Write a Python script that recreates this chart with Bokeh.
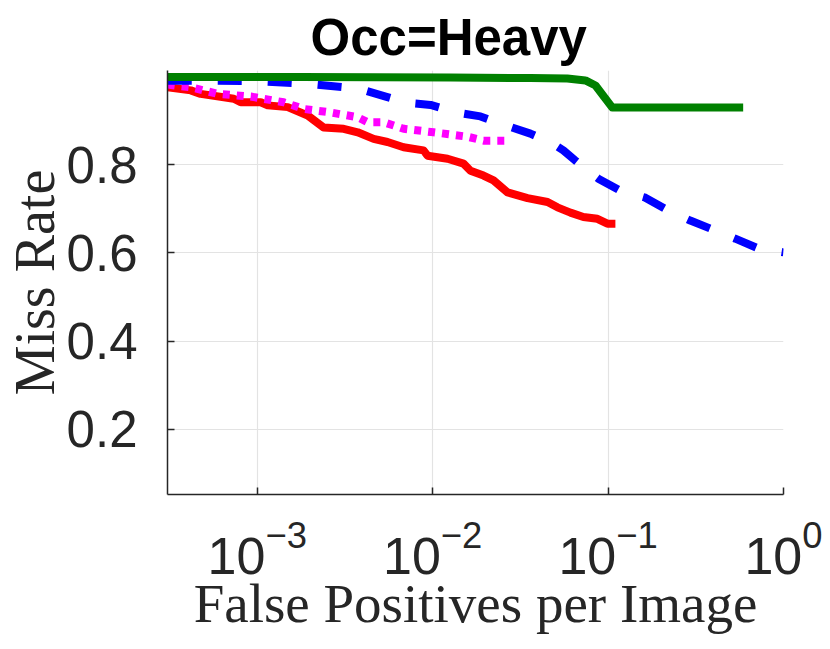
from bokeh.plotting import figure
from bokeh.models import FixedTicker, LogTickFormatter, Range1d
from bokeh.embed import file_html
from bokeh.resources import INLINE

# ---- data ----
red_x = [3.09e-4, 4.18e-4, 4.76e-4, 7.35e-4, 8.05e-4, 1.047e-3, 1.148e-3, 1.493e-3,
         1.94e-3, 2.39e-3, 3.11e-3, 3.74e-3, 4.61e-3, 5.53e-3, 6.83e-3, 8.87e-3,
         9.35e-3, 0.01216, 0.0150, 0.01643, 0.0195, 0.02223, 0.02673, 0.03475,
         0.04518, 0.05146, 0.0610, 0.07231, 0.0869, 0.0991, 0.1101]
red_y = [0.975, 0.968, 0.960, 0.949, 0.941, 0.941, 0.934, 0.930,
         0.911, 0.884, 0.881, 0.873, 0.858, 0.851, 0.839, 0.832,
         0.820, 0.813, 0.802, 0.786, 0.775, 0.764, 0.737, 0.724,
         0.715, 0.703, 0.691, 0.681, 0.677, 0.666, 0.666]

mag_x = [3.09e-4, 4.18e-4, 5.96e-4, 9.18e-4, 1.416e-3, 1.84e-3, 2.62e-3, 3.74e-3,
         4.26e-3, 5.25e-3, 6.83e-3, 0.01012, 0.01581, 0.0195, 0.0270]
mag_y = [0.981, 0.975, 0.960, 0.954, 0.941, 0.926, 0.918, 0.907,
         0.896, 0.896, 0.881, 0.873, 0.863, 0.854, 0.854]

blue_x = [3.09e-4, 5.09e-4, 9.8e-4, 1.91e-3, 3.79e-3, 5.40e-3, 7.10e-3, 9.73e-3,
          0.01368, 0.01874, 0.02636, 0.03609, 0.04815, 0.05559, 0.06505, 0.07925,
          0.0880, 0.1174, 0.1630, 0.2203, 0.294, 0.382, 0.531, 0.718, 1.0]
blue_y = [0.990, 0.990, 0.989, 0.983, 0.972, 0.954, 0.940, 0.935,
          0.918, 0.909, 0.888, 0.870, 0.848, 0.832, 0.809, 0.782,
          0.768, 0.741, 0.725, 0.696, 0.673, 0.655, 0.632, 0.610, 0.601]

green_x = [3.08e-4, 1.77e-3, 0.01265, 0.0361, 0.0586, 0.0743, 0.0848, 0.1057, 0.589]
green_y = [0.998, 0.998, 0.997, 0.996, 0.995, 0.9905, 0.979, 0.929, 0.929]

x_ticks = [0.001, 0.01, 0.1, 1.0]
y_ticks = [0.2, 0.4, 0.6, 0.8]

AX = "#262626"

p = figure(width=822, height=641, x_axis_type="log",
           x_range=Range1d(3.08e-4, 1.0), y_range=Range1d(0.0525, 1.013),
           output_backend="svg", toolbar_location=None,
           min_border_left=167, min_border_right=39,
           min_border_top=70, min_border_bottom=147,
           title="Occ=Heavy")

p.outline_line_color = None
p.background_fill_color = "white"
p.border_fill_color = "white"

p.title.text_font = "Liberation Sans"
p.title.text_font_style = "bold"
p.title.text_font_size = "51px"
p.title.text_color = "black"
p.title.align = "left"
p.title.offset = 143
p.title.standoff = 9

for ax in (p.xaxis[0], p.yaxis[0]):
    ax.axis_line_color = AX
    ax.axis_line_width = 1.5
    ax.major_tick_line_color = AX
    ax.major_tick_line_width = 1.5
    ax.major_tick_in = 7
    ax.major_tick_out = 0
    ax.minor_tick_line_color = None
    ax.major_label_text_color = AX
    ax.major_label_text_font = "Liberation Sans"
    ax.axis_label_text_font = "Liberation Serif"
    ax.axis_label_text_font_style = "normal"
    ax.axis_label_text_color = AX

p.xaxis[0].ticker = FixedTicker(ticks=x_ticks)
p.xaxis[0].formatter = LogTickFormatter()
p.xaxis[0].major_label_text_font_size = "52px"
p.xaxis[0].major_label_standoff = 26
p.xaxis[0].axis_label = "False Positives per Image"
p.xaxis[0].axis_label_text_font_size = "55px"
p.xaxis[0].axis_label_standoff = -4

p.yaxis[0].ticker = FixedTicker(ticks=y_ticks)
p.yaxis[0].major_label_text_font_size = "51px"
p.yaxis[0].major_label_standoff = 30
p.yaxis[0].axis_label = "Miss Rate"
p.yaxis[0].axis_label_text_font_size = "56px"
p.yaxis[0].axis_label_standoff = -2

p.xgrid.ticker = FixedTicker(ticks=x_ticks)
p.ygrid.ticker = FixedTicker(ticks=y_ticks)
for g in (p.xgrid[0], p.ygrid[0]):
    g.grid_line_color = "#e3e3e3"
    g.grid_line_width = 1.2

p.line(red_x, red_y, line_color="#ff0000", line_width=8, line_join="round")
p.line(mag_x, mag_y, line_color="#ff00ff", line_width=8, line_dash="7 7")
p.line(blue_x, blue_y, line_color="#0000ff", line_width=8, line_dash="24 26")
p.line(green_x, green_y, line_color="#008000", line_width=8, line_join="round")

open("out.html", "w").write(file_html(p, INLINE))
